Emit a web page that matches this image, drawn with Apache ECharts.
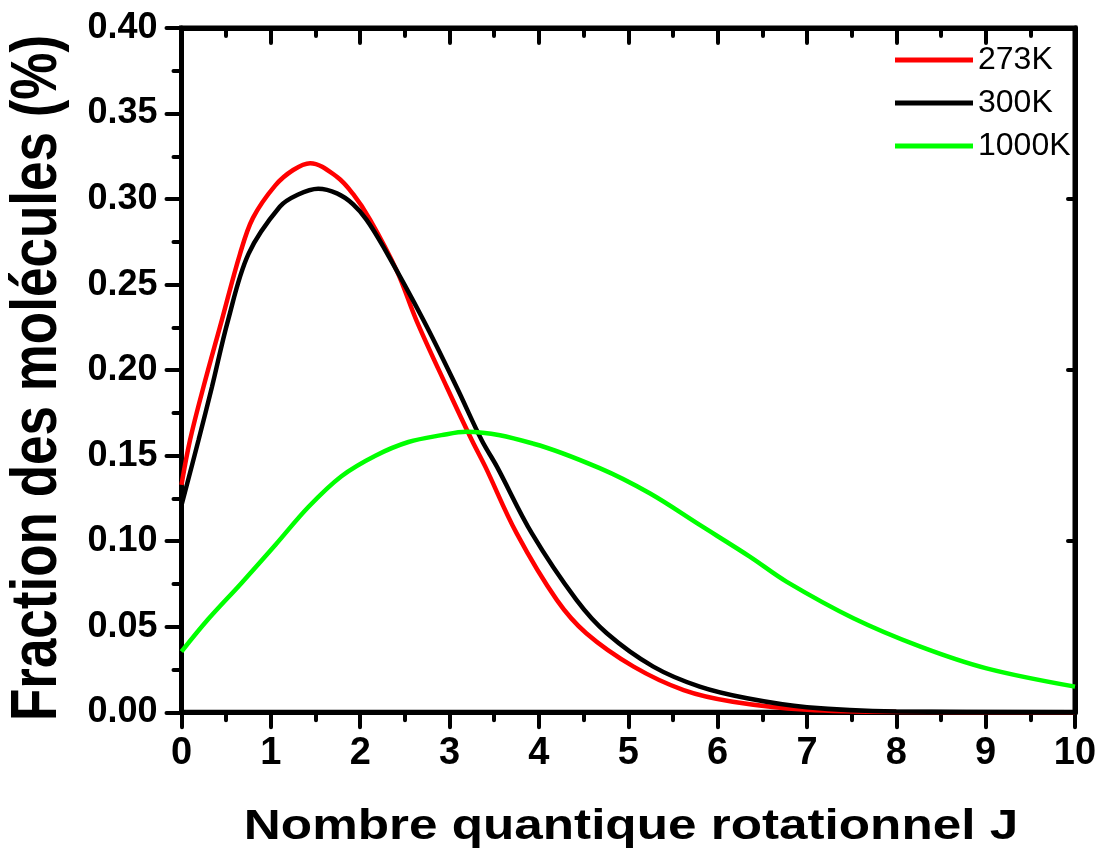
<!DOCTYPE html>
<html>
<head>
<meta charset="utf-8">
<title>Distribution rotationnelle</title>
<script src="https://cdn.jsdelivr.net/npm/echarts@6/dist/echarts.min.js"></script>
<style>
  html, body { margin: 0; padding: 0; background: #ffffff; }
  #chart { width: 1102px; height: 861px; }
</style>
</head>
<body>
<div id="chart"></div>
<script>
// Population fraction per rotational level J, three temperatures
const j273 = [0, 0.095, 0.245, 0.45, 0.655, 0.80, 1.05, 1.25, 1.44, 1.74, 1.92, 2.11, 2.41, 2.63, 2.97, 3.25, 3.40, 3.75, 4.20, 4.53, 5.06, 5.62, 6.17, 7.0, 8.0, 10];
const f273 = [0.133, 0.159, 0.190, 0.229, 0.268, 0.289, 0.308, 0.317, 0.321, 0.313, 0.303, 0.288, 0.258, 0.229, 0.190, 0.159, 0.1436, 0.1047, 0.0657, 0.0462, 0.0267, 0.013, 0.0062, 0.0015, 0.0002, 0];

const j300 = [0, 0.19, 0.34, 0.52, 0.75, 1.10, 1.30, 1.53, 1.74, 1.92, 2.07, 2.26, 2.71, 3.08, 3.36, 3.53, 3.92, 4.42, 4.76, 5.28, 5.80, 6.33, 7.0, 8.0, 10];
const f300 = [0.121, 0.159, 0.190, 0.229, 0.268, 0.2955, 0.3025, 0.306, 0.3033, 0.297, 0.288, 0.272, 0.229, 0.190, 0.159, 0.1436, 0.1047, 0.0657, 0.0462, 0.0267, 0.015, 0.0082, 0.003, 0.0005, 0];

const j1000 = [0, 0.30, 0.67, 1.05, 1.42, 1.79, 2.17, 2.54, 2.91, 3.19, 3.94, 4.68, 5.24, 5.80, 6.36, 6.77, 7.52, 8.27, 9.01, 10];
const f1000 = [0.0355, 0.0545, 0.0755, 0.0978, 0.120, 0.138, 0.150, 0.158, 0.162, 0.164, 0.157, 0.1427, 0.128, 0.1095, 0.091, 0.0764, 0.055, 0.0384, 0.0257, 0.015];

const seriesNames = ['273K', '300K', '1000K'];
const seriesColors = ['#ff0000', '#000000', '#00ff00'];

const xTitle = 'Nombre quantique rotationnel J';
const yTitle = 'Fraction des molécules (%)';

const FONT = '"Liberation Sans", Arial, Helvetica, sans-serif';

function pairs(xs, ys) { return xs.map((x, i) => [x, ys[i]]); }

// fresh style objects for each axis
function axisLine() { return { show: true, onZero: false, lineStyle: { color: '#000', width: 5 } }; }
function tick(inside, length) {
  return { show: true, inside: inside, length: length, lineStyle: { color: '#000', width: 4, cap: 'round' } };
}
function minor() {
  return { show: true, splitNumber: 2, length: 8, lineStyle: { color: '#000', width: 4, cap: 'round' } };
}

const chart = echarts.init(document.getElementById('chart'), null, { renderer: 'canvas' });

chart.setOption({
  backgroundColor: '#ffffff',
  animation: false,
  grid: {
    left: 181.5, right: 27, top: 28, bottom: 148.7, containLabel: false,
    show: true, borderColor: '#000', borderWidth: 5, backgroundColor: 'transparent'
  },
  legend: {
    orient: 'vertical',
    left: 895,
    top: 44,
    padding: 0,
    icon: 'rect',
    itemWidth: 78,
    itemHeight: 5,
    itemGap: 11,
    textStyle: { fontFamily: FONT, fontSize: 32, color: '#000' },
    data: seriesNames
  },
  xAxis: [
    {
      type: 'value', position: 'bottom', min: 0, max: 10, interval: 1,
      axisLine: axisLine(),
      axisTick: tick(false, 15),
      minorTick: minor(),
      splitLine: { show: false },
      axisLabel: { fontFamily: FONT, fontWeight: 'bold', fontSize: 38, color: '#000', margin: 22 }
    },
    {
      type: 'value', position: 'top', min: 0, max: 10, interval: 1,
      axisLine: axisLine(),
      axisTick: tick(true, 15),
      minorTick: minor(),
      splitLine: { show: false },
      axisLabel: { show: false }
    }
  ],
  yAxis: [
    {
      type: 'value', position: 'left', min: 0, max: 0.4, interval: 0.05,
      axisLine: axisLine(),
      axisTick: tick(false, 15),
      minorTick: minor(),
      splitLine: { show: false },
      axisLabel: {
        fontFamily: FONT, fontWeight: 'bold', fontSize: 36, color: '#000', margin: 24,
        formatter: v => v.toFixed(2)
      }
    },
    {
      type: 'value', position: 'right', min: 0, max: 0.4, interval: 0.1,
      axisLine: axisLine(),
      axisTick: tick(true, 7),
      splitLine: { show: false },
      axisLabel: { show: false }
    }
  ],
  series: [
    { name: seriesNames[0], type: 'line', data: pairs(j273, f273) },
    { name: seriesNames[1], type: 'line', data: pairs(j300, f300) },
    { name: seriesNames[2], type: 'line', data: pairs(j1000, f1000) }
  ].map((s, i) => Object.assign(s, {
    xAxisIndex: 0, yAxisIndex: 0,
    smooth: 0.35,
    showSymbol: false,
    symbol: 'none',
    color: seriesColors[i],
    lineStyle: { color: seriesColors[i], width: 4.5 },
    z: 2
  })),
  graphic: [
    {
      type: 'text', x: 631, y: 827, scaleX: 1.22,
      style: {
        text: xTitle, fill: '#000',
        font: 'bold 42px ' + FONT,
        textAlign: 'center', textVerticalAlign: 'middle'
      }
    },
    {
      type: 'text', x: 38, y: 378, rotation: Math.PI / 2, scaleY: 1.22,
      style: {
        text: yTitle, fill: '#000',
        font: 'bold 53px ' + FONT,
        textAlign: 'center', textVerticalAlign: 'middle'
      }
    }
  ]
});
</script>
</body>
</html>
